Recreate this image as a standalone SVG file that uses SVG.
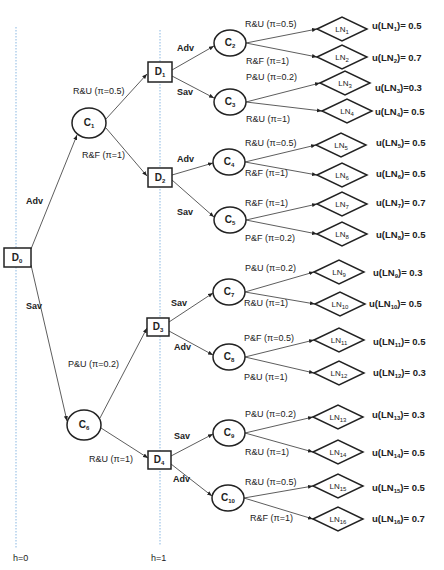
<svg xmlns="http://www.w3.org/2000/svg" width="444" height="570" viewBox="0 0 444 570">
<style>
text{font-family:"Liberation Sans",Arial,sans-serif;fill:#222}
.el{font-size:9px}
.ac{font-size:9px;font-weight:bold}
.nl{font-size:10px;font-weight:bold;text-anchor:middle}
.ln{font-size:8px;text-anchor:middle}
.u{font-size:9.5px;font-weight:bold}
.s{font-size:6px}
.box{fill:#fff;stroke:#222;stroke-width:1.5}
.cir{fill:#fff;stroke:#222;stroke-width:1.5}
.dia{fill:#fff;stroke:#222;stroke-width:1.5}
.e line{stroke:#333;stroke-width:0.8;marker-end:url(#a)}
.h{stroke:#9dc3e6;stroke-width:1.2;stroke-dasharray:1.5 1.5}
</style>
<defs>
<marker id="a" viewBox="0 0 10 10" refX="10" refY="5" markerWidth="5" markerHeight="5" markerUnits="userSpaceOnUse" orient="auto"><path d="M0,1 L10,5 L0,9 z" fill="#222"/></marker>
</defs>
<rect width="444" height="570" fill="#fff"/>
<g id="levels">
<line class="h" x1="16" y1="27" x2="16" y2="548"/>
<line class="h" x1="160" y1="30" x2="160" y2="545"/>
<text class="el" x="13" y="561">h=0</text>
<text class="el" x="151" y="561">h=1</text>
</g>
<g id="connectors" class="e">
<line x1="31" y1="249" x2="77" y2="135"/>
<line x1="31" y1="265" x2="67" y2="421"/>
<line x1="106" y1="119" x2="147" y2="74"/>
<line x1="106" y1="128" x2="147" y2="176"/>
<line x1="100" y1="418" x2="147" y2="328"/>
<line x1="101" y1="428" x2="148" y2="458"/>
<line x1="172" y1="70" x2="214" y2="46"/>
<line x1="172" y1="76" x2="214" y2="98"/>
<line x1="172" y1="175" x2="213" y2="163"/>
<line x1="172" y1="180" x2="214" y2="217"/>
<line x1="169" y1="322" x2="213" y2="293"/>
<line x1="169" y1="331" x2="213" y2="355"/>
<line x1="171" y1="456" x2="213" y2="434"/>
<line x1="171" y1="464" x2="212" y2="496"/>
<line x1="246" y1="43" x2="317" y2="29"/>
<line x1="246" y1="43" x2="317" y2="57"/>
<line x1="246" y1="102" x2="320" y2="83"/>
<line x1="246" y1="102" x2="322" y2="111"/>
<line x1="245" y1="162" x2="316" y2="145"/>
<line x1="245" y1="162" x2="317" y2="175"/>
<line x1="246" y1="220" x2="317" y2="204"/>
<line x1="246" y1="220" x2="317" y2="234"/>
<line x1="245" y1="292" x2="314" y2="272"/>
<line x1="245" y1="292" x2="315" y2="304"/>
<line x1="245" y1="357" x2="314" y2="340"/>
<line x1="245" y1="357" x2="314" y2="373"/>
<line x1="245" y1="433" x2="313" y2="417"/>
<line x1="245" y1="433" x2="313" y2="452"/>
<line x1="244" y1="498" x2="313" y2="486"/>
<line x1="244" y1="498" x2="313" y2="519"/>
</g>
<g id="edge-labels">
<text class="ac" x="26" y="204">Adv</text>
<text class="ac" x="26" y="309">Sav</text>
<text class="el" x="73" y="94">R&amp;U (π=0.5)</text>
<text class="el" x="82" y="158">R&amp;F (π=1)</text>
<text class="el" x="68" y="367">P&amp;U (π=0.2)</text>
<text class="el" x="89" y="462">R&amp;U (π=1)</text>
<text class="ac" x="177" y="51">Adv</text>
<text class="ac" x="177" y="95">Sav</text>
<text class="ac" x="177" y="162">Adv</text>
<text class="ac" x="177" y="215">Sav</text>
<text class="ac" x="171" y="306">Sav</text>
<text class="ac" x="174" y="350">Adv</text>
<text class="ac" x="174" y="439">Sav</text>
<text class="ac" x="173" y="482">Adv</text>
<text class="el" x="245" y="27">R&amp;U (π=0.5)</text>
<text class="el" x="246" y="64">R&amp;F (π=1)</text>
<text class="el" x="246" y="80">P&amp;U (π=0.2)</text>
<text class="el" x="246" y="122">R&amp;U (π=1)</text>
<text class="el" x="245" y="146">R&amp;U (π=0.5)</text>
<text class="el" x="245" y="176">R&amp;F (π=1)</text>
<text class="el" x="245" y="206">R&amp;F (π=1)</text>
<text class="el" x="245" y="241">P&amp;F (π=0.2)</text>
<text class="el" x="245" y="271">P&amp;U (π=0.2)</text>
<text class="el" x="244" y="306">R&amp;U (π=1)</text>
<text class="el" x="244" y="341">P&amp;F (π=0.5)</text>
<text class="el" x="244" y="380">P&amp;U (π=1)</text>
<text class="el" x="245" y="417">P&amp;U (π=0.2)</text>
<text class="el" x="245" y="455">R&amp;U (π=1)</text>
<text class="el" x="245" y="485">R&amp;U (π=0.5)</text>
<text class="el" x="250" y="521">R&amp;F (π=1)</text>
</g>
<g id="D0"><rect class="box" x="4" y="248" width="27" height="19"/><text class="nl" x="17" y="261">D<tspan class="s" dy="2">0</tspan></text></g>
<g id="D1"><rect class="box" x="148" y="62" width="24" height="20"/><text class="nl" x="160" y="75">D<tspan class="s" dy="2">1</tspan></text></g>
<g id="D2"><rect class="box" x="148" y="168" width="24" height="19"/><text class="nl" x="160" y="181">D<tspan class="s" dy="2">2</tspan></text></g>
<g id="D3"><rect class="box" x="147" y="318" width="22" height="18"/><text class="nl" x="158" y="330">D<tspan class="s" dy="2">3</tspan></text></g>
<g id="D4"><rect class="box" x="148" y="451" width="23" height="18"/><text class="nl" x="159" y="463">D<tspan class="s" dy="2">4</tspan></text></g>
<g id="C1"><ellipse class="cir" cx="89" cy="123" rx="17" ry="15"/><text class="nl" x="89" y="126">C<tspan class="s" dy="2">1</tspan></text></g>
<g id="C2"><ellipse class="cir" cx="230" cy="43" rx="16" ry="13"/><text class="nl" x="230" y="46">C<tspan class="s" dy="2">2</tspan></text></g>
<g id="C3"><ellipse class="cir" cx="230" cy="102" rx="16" ry="13"/><text class="nl" x="230" y="105">C<tspan class="s" dy="2">3</tspan></text></g>
<g id="C4"><ellipse class="cir" cx="229" cy="162" rx="16" ry="13"/><text class="nl" x="229" y="165">C<tspan class="s" dy="2">4</tspan></text></g>
<g id="C5"><ellipse class="cir" cx="230" cy="220" rx="16" ry="13"/><text class="nl" x="230" y="223">C<tspan class="s" dy="2">5</tspan></text></g>
<g id="C6"><ellipse class="cir" cx="84" cy="425" rx="17" ry="15"/><text class="nl" x="84" y="428">C<tspan class="s" dy="2">6</tspan></text></g>
<g id="C7"><ellipse class="cir" cx="229" cy="292" rx="16" ry="13"/><text class="nl" x="229" y="295">C<tspan class="s" dy="2">7</tspan></text></g>
<g id="C8"><ellipse class="cir" cx="229" cy="357" rx="16" ry="13"/><text class="nl" x="229" y="360">C<tspan class="s" dy="2">8</tspan></text></g>
<g id="C9"><ellipse class="cir" cx="229" cy="433" rx="16" ry="13"/><text class="nl" x="229" y="436">C<tspan class="s" dy="2">9</tspan></text></g>
<g id="C10"><ellipse class="cir" cx="228" cy="498" rx="16" ry="13"/><text class="nl" x="228" y="501">C<tspan class="s" dy="2">10</tspan></text></g>
<g id="LN1"><path class="dia" d="M317,29 L342,17 L367,29 L342,41 Z"/><text class="ln" x="342" y="32">LN<tspan class="s" dy="2">1</tspan></text><text class="u" x="372" y="29">u(LN<tspan class="s" dy="2">1</tspan><tspan dy="-2">)= 0.5</tspan></text></g>
<g id="LN2"><path class="dia" d="M317,57 L342,45 L367,57 L342,69 Z"/><text class="ln" x="342" y="60">LN<tspan class="s" dy="2">2</tspan></text><text class="u" x="372" y="61">u(LN<tspan class="s" dy="2">2</tspan><tspan dy="-2">)= 0.7</tspan></text></g>
<g id="LN3"><path class="dia" d="M320,83 L345,71 L370,83 L345,95 Z"/><text class="ln" x="345" y="86">LN<tspan class="s" dy="2">3</tspan></text><text class="u" x="375" y="91">u(LN<tspan class="s" dy="2">3</tspan><tspan dy="-2">)=0.3</tspan></text></g>
<g id="LN4"><path class="dia" d="M322,111 L347,99 L372,111 L347,123 Z"/><text class="ln" x="347" y="114">LN<tspan class="s" dy="2">4</tspan></text><text class="u" x="375" y="115">u(LN<tspan class="s" dy="2">4</tspan><tspan dy="-2">)= 0.5</tspan></text></g>
<g id="LN5"><path class="dia" d="M316,145 L341,133 L366,145 L341,157 Z"/><text class="ln" x="341" y="148">LN<tspan class="s" dy="2">5</tspan></text><text class="u" x="376" y="146">u(LN<tspan class="s" dy="2">5</tspan><tspan dy="-2">)= 0.5</tspan></text></g>
<g id="LN6"><path class="dia" d="M317,175 L342,163 L367,175 L342,187 Z"/><text class="ln" x="342" y="178">LN<tspan class="s" dy="2">6</tspan></text><text class="u" x="376" y="177">u(LN<tspan class="s" dy="2">6</tspan><tspan dy="-2">)= 0.5</tspan></text></g>
<g id="LN7"><path class="dia" d="M317,204 L342,192 L367,204 L342,216 Z"/><text class="ln" x="342" y="207">LN<tspan class="s" dy="2">7</tspan></text><text class="u" x="376" y="206">u(LN<tspan class="s" dy="2">7</tspan><tspan dy="-2">)= 0.7</tspan></text></g>
<g id="LN8"><path class="dia" d="M317,234 L342,222 L367,234 L342,246 Z"/><text class="ln" x="342" y="237">LN<tspan class="s" dy="2">8</tspan></text><text class="u" x="376" y="238">u(LN<tspan class="s" dy="2">8</tspan><tspan dy="-2">)= 0.5</tspan></text></g>
<g id="LN9"><path class="dia" d="M314,272 L339,260 L364,272 L339,284 Z"/><text class="ln" x="339" y="275">LN<tspan class="s" dy="2">9</tspan></text><text class="u" x="373" y="276">u(LN<tspan class="s" dy="2">9</tspan><tspan dy="-2">)= 0.3</tspan></text></g>
<g id="LN10"><path class="dia" d="M315,304 L340,292 L365,304 L340,316 Z"/><text class="ln" x="340" y="307">LN<tspan class="s" dy="2">10</tspan></text><text class="u" x="369" y="307">u(LN<tspan class="s" dy="2">10</tspan><tspan dy="-2">)= 0.5</tspan></text></g>
<g id="LN11"><path class="dia" d="M314,340 L339,328 L364,340 L339,352 Z"/><text class="ln" x="339" y="343">LN<tspan class="s" dy="2">11</tspan></text><text class="u" x="373" y="345">u(LN<tspan class="s" dy="2">11</tspan><tspan dy="-2">)= 0.5</tspan></text></g>
<g id="LN12"><path class="dia" d="M314,373 L339,361 L364,373 L339,385 Z"/><text class="ln" x="339" y="376">LN<tspan class="s" dy="2">12</tspan></text><text class="u" x="373" y="376">u(LN<tspan class="s" dy="2">12</tspan><tspan dy="-2">)= 0.3</tspan></text></g>
<g id="LN13"><path class="dia" d="M313,417 L338,405 L363,417 L338,429 Z"/><text class="ln" x="338" y="420">LN<tspan class="s" dy="2">13</tspan></text><text class="u" x="372" y="418">u(LN<tspan class="s" dy="2">13</tspan><tspan dy="-2">)= 0.3</tspan></text></g>
<g id="LN14"><path class="dia" d="M313,452 L338,440 L363,452 L338,464 Z"/><text class="ln" x="338" y="455">LN<tspan class="s" dy="2">14</tspan></text><text class="u" x="372" y="456">u(LN<tspan class="s" dy="2">14</tspan><tspan dy="-2">)= 0.5</tspan></text></g>
<g id="LN15"><path class="dia" d="M313,486 L338,474 L363,486 L338,498 Z"/><text class="ln" x="338" y="489">LN<tspan class="s" dy="2">15</tspan></text><text class="u" x="372" y="491">u(LN<tspan class="s" dy="2">15</tspan><tspan dy="-2">)= 0.5</tspan></text></g>
<g id="LN16"><path class="dia" d="M313,519 L338,507 L363,519 L338,531 Z"/><text class="ln" x="338" y="522">LN<tspan class="s" dy="2">16</tspan></text><text class="u" x="372" y="522">u(LN<tspan class="s" dy="2">16</tspan><tspan dy="-2">)= 0.7</tspan></text></g>
</svg>
